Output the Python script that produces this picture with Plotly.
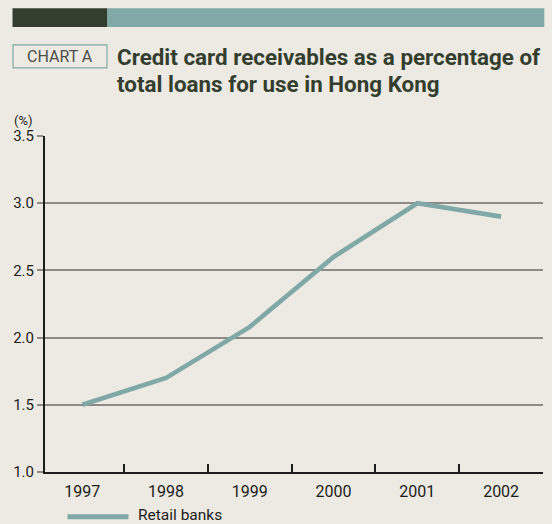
import plotly.graph_objects as go

# Data
years = ["1997", "1998", "1999", "2000", "2001", "2002"]
retail_banks = [1.5, 1.7, 2.08, 2.6, 3.0, 2.9]
y_ticks = [1.0, 1.5, 2.0, 2.5, 3.0, 3.5]
y_tick_labels = ["1.0", "1.5", "2.0", "2.5", "3.0", "3.5"]

# Page geometry (pixels)
W, H = 552, 524
L, R, T, B = 44.5, 9.3, 135.7, 52.3
PW, PH = W - L - R, H - T - B

BG = "#edeae3"
DARK = "#343e2e"
TEAL = "#80a8a7"
GRID = "#8e8b86"
INK = "#1c1c1a"


def px(x):
    return (x - L) / PW


def py(y):
    return (H - B - y) / PH


fig = go.Figure()
fig.add_trace(go.Scatter(
    x=years, y=retail_banks, mode="lines", name="Retail banks",
    line=dict(color=TEAL, width=4.6), showlegend=False, hoverinfo="x+y",
))

shapes = [
    # header bar
    dict(type="rect", xref="paper", yref="paper", x0=px(12), x1=px(107), y0=py(26.7), y1=py(8),
         fillcolor=DARK, line=dict(width=0), layer="above"),
    dict(type="rect", xref="paper", yref="paper", x0=px(107), x1=px(544), y0=py(26.7), y1=py(8),
         fillcolor=TEAL, line=dict(width=0), layer="above"),
    # label box
    dict(type="rect", xref="paper", yref="paper", x0=px(12.5), x1=px(106.5), y0=py(67.5), y1=py(44.5),
         fillcolor="rgba(0,0,0,0)", line=dict(color=TEAL, width=1.2), layer="above"),
    # legend swatch
    dict(type="line", xref="paper", yref="paper", x0=px(67), x1=px(128), y0=py(516.5), y1=py(516.5),
         line=dict(color=TEAL, width=5), layer="above"),
]

annotations = [
    dict(text="CHART A", xref="paper", yref="paper", x=px(59.5), y=py(56.5),
         xanchor="center", yanchor="middle", showarrow=False,
         font=dict(family="Roboto", size=16, color="#4d4d4a")),
    dict(text="<b>Credit card receivables as a percentage of</b>",
         xref="paper", yref="paper", x=px(115), y=py(57), xanchor="left", yanchor="middle",
         showarrow=False, font=dict(family="Roboto", size=22.4, color=DARK)),
    dict(text="<b>total loans for use in Hong Kong</b>",
         xref="paper", yref="paper", x=px(115), y=py(84), xanchor="left", yanchor="middle",
         showarrow=False, font=dict(family="Roboto", size=22.4, color=DARK)),
    dict(text="(%)", xref="paper", yref="paper", x=px(11), y=py(120), xanchor="left", yanchor="middle",
         showarrow=False, font=dict(family="Roboto", size=13, color=INK)),
    dict(text="Retail banks", xref="paper", yref="paper", x=px(136), y=py(514.5), xanchor="left",
         yanchor="middle", showarrow=False,
         font=dict(family="Roboto", size=15.5, color=INK)),
]

fig.update_layout(
    width=W, height=H,
    margin=dict(l=L, r=R, t=T, b=B, pad=0),
    paper_bgcolor=BG, plot_bgcolor=BG,
    shapes=shapes, annotations=annotations,
    showlegend=False,
    xaxis=dict(
        type="category", categoryorder="array", categoryarray=years,
        range=[-0.445, 5.5], tickson="boundaries", ticks="inside", ticklen=8,
        tickwidth=2, tickcolor=INK, showline=True, linecolor=INK, linewidth=2,
        showgrid=False, zeroline=False, fixedrange=True, ticklabelstandoff=4,
        tickfont=dict(family="Roboto", size=16, color=INK),
    ),
    yaxis=dict(
        range=[1.0, 3.5], tickvals=y_ticks, ticktext=y_tick_labels,
        ticks="outside", ticklen=6, tickwidth=1.5, tickcolor=GRID,
        showline=True, linecolor=INK, linewidth=2,
        showgrid=True, gridcolor=GRID, gridwidth=1.5, zeroline=False, fixedrange=True,
        tickfont=dict(family="Roboto", size=15, color=INK),
    ),
)

fig.write_html("out.html")
